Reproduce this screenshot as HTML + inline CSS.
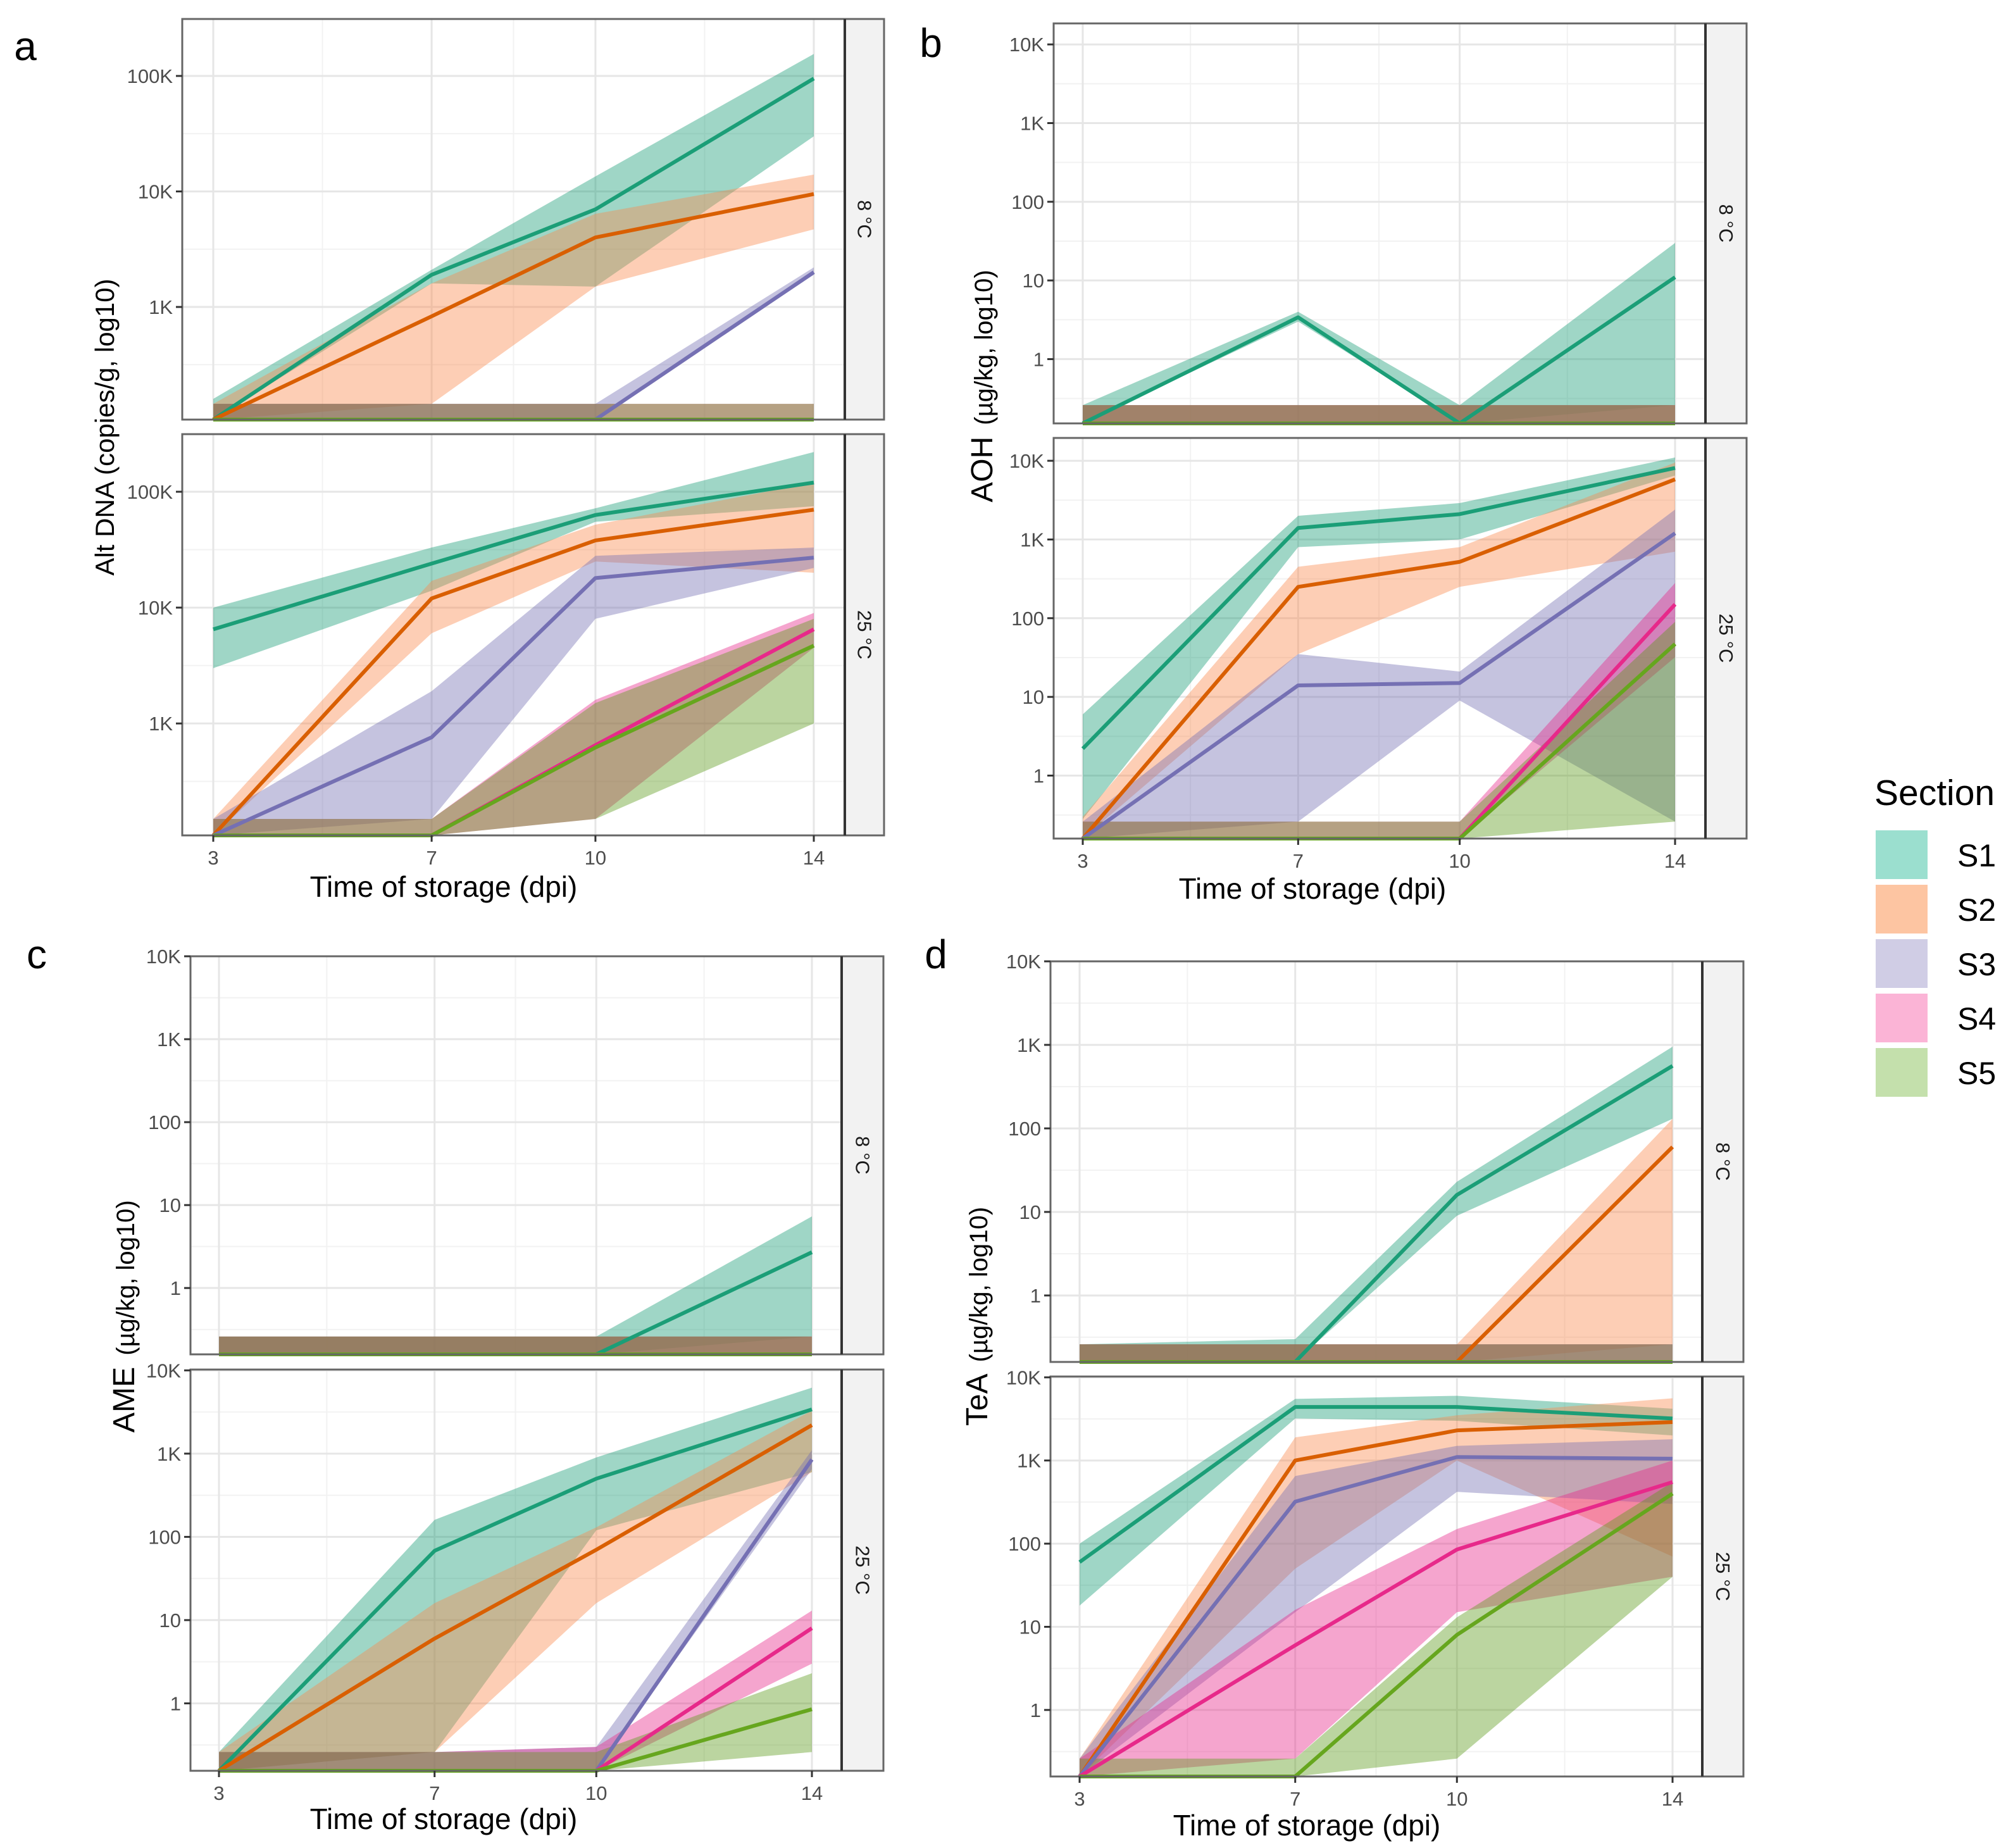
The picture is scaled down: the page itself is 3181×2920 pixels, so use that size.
<!DOCTYPE html>
<html><head><meta charset="utf-8"><style>
html,body{margin:0;padding:0;background:#fff;}
svg{display:block;font-family:"Liberation Sans",Arial,sans-serif;}
</style></head><body>
<svg id="chart" width="3181" height="2920" viewBox="0 0 3181 2920" xmlns="http://www.w3.org/2000/svg"></svg>
<script>
// ---------- data ----------
const days = [3, 7, 10, 14];
const sections = ['S1','S2','S3','S4','S5'];
const lineColors = ['#1B9E77','#D95F02','#7570B3','#E7298A','#66A61E'];
const fillColors = ['#1B9E77','#FB8A4E','#7570B3','#E7298A','#5E9A1C'];
const fillSwatch = ['#9BDFCF','#FDC5A2','#D0CDE5','#FBB4D6','#C4E0AC'];

// Panel a (Alt DNA)
const aColdMid = [[0,1900,7000,95000],[0,830,4000,9500],[0,0,0,2000],[0,0,0,0],[0,0,0,0]];
const aColdLo  = [[0,1600,1500,30000],[0,145,1500,4700],[0,0,0,1900],[0,0,0,0],[0,0,0,0]];
const aColdHi  = [[160,2100,13500,155000],[145,1600,6400,14000],[145,145,145,2200],[145,145,145,145],[145,145,145,145]];
const aWarmMid = [[6500,24000,63000,120000],[0,12000,38000,70000],[0,760,18000,27000],[0,0,650,6500],[0,0,620,4700]];
const aWarmLo  = [[3000,14000,55000,75000],[0,6000,25000,20000],[0,150,8000,22000],[0,0,150,4500],[0,0,150,1000]];
const aWarmHi  = [[10000,33000,72000,220000],[150,17000,52000,120000],[150,1900,28000,33000],[150,150,1600,9000],[150,150,1500,8000]];
// Panel b (AOH)
const bColdMid = [[0,3.4,0,11],[0,0,0,0],[0,0,0,0],[0,0,0,0],[0,0,0,0]];
const bColdLo  = [[0,3.0,0,0.26],[0,0,0,0],[0,0,0,0],[0,0,0,0],[0,0,0,0]];
const bColdHi  = [[0.26,4.0,0.26,30],[0.26,0.26,0.26,0.26],[0.26,0.26,0.26,0.26],[0.26,0.26,0.26,0.26],[0.26,0.26,0.26,0.26]];
const bWarmMid = [[2.2,1400,2100,8100],[0,250,520,5800],[0,14,15,1200],[0,0,0,150],[0,0,0,47]];
const bWarmLo  = [[0.28,800,1000,6500],[0,35,250,700],[0,0.26,9,0.26],[0,0,0,32],[0,0,0,0.26]];
const bWarmHi  = [[6,2000,2900,11000],[0.3,450,800,9500],[0.26,35,21,2400],[0.26,0.26,0.26,280],[0.26,0.26,0.26,90]];
// Panel c (AME)
const cColdMid = [[0,0,0,2.7],[0,0,0,0],[0,0,0,0],[0,0,0,0],[0,0,0,0]];
const cColdLo  = [[0,0,0,0.26],[0,0,0,0],[0,0,0,0],[0,0,0,0],[0,0,0,0]];
const cColdHi  = [[0.26,0.26,0.26,7.3],[0.26,0.26,0.26,0.26],[0.26,0.26,0.26,0.26],[0.26,0.26,0.26,0.26],[0.26,0.26,0.26,0.26]];
const cWarmMid = [[0,68,500,3400],[0,6,70,2200],[0,0,0,850],[0,0,0,8],[0,0,0,0.85]];
const cWarmLo  = [[0,0.26,120,600],[0,0.26,16,600],[0,0,0,650],[0,0,0,3],[0,0,0,0.26]];
const cWarmHi  = [[0.26,160,900,6200],[0.26,16,130,3300],[0.26,0.26,0.3,1100],[0.26,0.26,0.3,13],[0.26,0.26,0.26,2.3]];
// Panel d (TeA)
const dColdMid = [[0,0,16,560],[0,0,0,60],[0,0,0,0],[0,0,0,0],[0,0,0,0]];
const dColdLo  = [[0,0,9,130],[0,0,0,0.26],[0,0,0,0],[0,0,0,0],[0,0,0,0]];
const dColdHi  = [[0.26,0.3,23,950],[0.26,0.26,0.26,130],[0.26,0.26,0.26,0.26],[0.26,0.26,0.26,0.26],[0.26,0.26,0.26,0.26]];
const dWarmMid = [[60,4400,4400,3200],[0,1000,2300,2900],[0,320,1100,1050],[0,6,85,550],[0,0,8,400]];
const dWarmLo  = [[18,3200,3000,2000],[0,50,1000,70],[0,15,420,300],[0,0.26,15,40],[0,0,0.26,40]];
const dWarmHi  = [[100,5500,6000,4200],[0.26,1900,3500,5600],[0.26,650,1500,1800],[0.26,16,150,1000],[0.26,0.26,13,550]];

const tickLabelsK = ['1','10','100','1K','10K','100K'];

// ---------- layout ----------
const NS = 'http://www.w3.org/2000/svg';
const svg = document.getElementById('chart');
function mk(tag, attrs, parent){ const e=document.createElementNS(NS,tag); for(const k in attrs) e.setAttribute(k,attrs[k]); (parent||svg).appendChild(e); return e; }

const panels = [
 {id:'a', letter:[40,95], left:288,right:1335,strip:1397, x3:337,x14:1286,
  facets:[{name:'8 °C',top:30,bot:663,lmin:2.025,lmax:5.493,mid:aColdMid,lo:aColdLo,hi:aColdHi},
          {name:'25 °C',top:686,bot:1320,lmin:2.034,lmax:5.497,mid:aWarmMid,lo:aWarmLo,hi:aWarmHi}],
  ytitle:['Alt DNA (copies/g, log10)',''], ytx:180, yc:675, xtitle:'Time of storage (dpi)', xtx:701, xty:1417},
 {id:'b', letter:[1471,90], left:1665,right:2695,strip:2760, x3:1711,x14:2647,
  facets:[{name:'8 °C',top:37,bot:669,lmin:-0.817,lmax:4.267,mid:bColdMid,lo:bColdLo,hi:bColdHi},
          {name:'25 °C',top:692,bot:1325,lmin:-0.8,lmax:4.29,mid:bWarmMid,lo:bWarmLo,hi:bWarmHi}],
  ytitle:['AOH','(µg/kg, log10)'], ytx:1568, yc:610, xtitle:'Time of storage (dpi)', xtx:2074, xty:1420},
 {id:'c', letter:[58,1530], left:301,right:1330,strip:1396, x3:346,x14:1283,
  facets:[{name:'8 °C',top:1511,bot:2140,lmin:-0.80,lmax:4.0,mid:cColdMid,lo:cColdLo,hi:cColdHi},
          {name:'25 °C',top:2164,bot:2798,lmin:-0.81,lmax:4.01,mid:cWarmMid,lo:cWarmLo,hi:cWarmHi}],
  ytitle:['AME','(µg/kg, log10)'], ytx:212, yc:2080, xtitle:'Time of storage  (dpi)', xtx:701, xty:2890},
 {id:'d', letter:[1479,1530], left:1660,right:2690,strip:2755, x3:1706,x14:2643,
  facets:[{name:'8 °C',top:1519,bot:2152,lmin:-0.796,lmax:4.0,mid:dColdMid,lo:dColdLo,hi:dColdHi},
          {name:'25 °C',top:2175,bot:2807,lmin:-0.8,lmax:4.01,mid:dWarmMid,lo:dWarmLo,hi:dWarmHi}],
  ytitle:['TeA','(µg/kg, log10)'], ytx:1560, yc:2080, xtitle:'Time of storage  (dpi)', xtx:2065, xty:2900}
];

panels.forEach(p=>{
  const g = mk('g',{});
  
  
  const xs = d => p.x3 + (d-3)*(p.x14-p.x3)/11;
  const letter = mk('text',{x:p.letter[0],y:p.letter[1],'font-size':64,'text-anchor':'middle',fill:'#000'},g);
  letter.textContent = p.id;
  
  

  p.facets.forEach((f,fi)=>{
    const fg = mk('g',{},g);
    
    
    const ys = v => { let l = v>0 ? Math.log10(v) : -99; l=Math.max(f.lmin,Math.min(f.lmax,l)); return f.bot-(l-f.lmin)*(f.bot-f.top)/(f.lmax-f.lmin); };
    const ysl = l => f.bot-(l-f.lmin)*(f.bot-f.top)/(f.lmax-f.lmin);
    mk('rect',{x:p.left,y:f.top,width:p.right-p.left,height:f.bot-f.top,fill:'#fff'},fg);
    for(let l=Math.floor(f.lmin)-0.5;l<=f.lmax;l+=1){ if(l<f.lmin) continue;
      mk('line',{x1:p.left,x2:p.right,y1:ysl(l),y2:ysl(l),stroke:'#F2F2F2','stroke-width':2},fg);}
    [5,8.5,12].forEach(d=>mk('line',{x1:xs(d),x2:xs(d),y1:f.top,y2:f.bot,stroke:'#F2F2F2','stroke-width':2},fg));
    for(let l=Math.ceil(f.lmin);l<=f.lmax;l++){
      mk('line',{x1:p.left,x2:p.right,y1:ysl(l),y2:ysl(l),stroke:'#E6E6E6','stroke-width':3},fg);}
    days.forEach(d=>mk('line',{x1:xs(d),x2:xs(d),y1:f.top,y2:f.bot,stroke:'#E6E6E6','stroke-width':3},fg));
    sections.forEach((s,si)=>{
      const up = days.map((d,i)=>xs(d)+','+ys(f.hi[si][i]));
      const dn = days.map((d,i)=>xs(d)+','+ys(f.lo[si][i])).reverse();
      const r = mk('polygon',{points:up.concat(dn).join(' '),fill:fillColors[si],'fill-opacity':0.42},fg);
      
      
    });
    sections.forEach((s,si)=>{
      const pts = days.map((d,i)=>xs(d)+','+ys(f.mid[si][i])).join(' ');
      const ln = mk('polyline',{points:pts,fill:'none',stroke:lineColors[si],'stroke-width':6,'stroke-linejoin':'round'},fg);
      
      
    });
    mk('rect',{x:p.left,y:f.top,width:p.right-p.left,height:f.bot-f.top,fill:'none',stroke:'#666','stroke-width':3},fg);
    mk('rect',{x:p.right,y:f.top,width:p.strip-p.right,height:f.bot-f.top,fill:'#F2F2F2',stroke:'#666','stroke-width':3},fg);
    mk('line',{x1:p.right,x2:p.right,y1:f.top,y2:f.bot,stroke:'#333','stroke-width':4},fg);
    const cx=(p.right+p.strip)/2, cy=(f.top+f.bot)/2;
    const st = mk('text',{x:cx,y:cy,'font-size':31,'text-anchor':'middle','dominant-baseline':'central',fill:'#1A1A1A',transform:`rotate(90 ${cx} ${cy})`},fg);
    st.textContent=f.name;
    
    
    for(let l=Math.ceil(f.lmin);l<=f.lmax;l++){
      const y=ysl(l);
      mk('line',{x1:p.left-10,x2:p.left,y1:y,y2:y,stroke:'#333','stroke-width':3},fg);
      const t=mk('text',{x:p.left-15,y:y+11,'font-size':31,'text-anchor':'end',fill:'#4D4D4D'},fg);
      t.textContent=tickLabelsK[l];
      
      
    }
    if(fi===1){
      days.forEach(d=>{
        mk('line',{x1:xs(d),x2:xs(d),y1:f.bot,y2:f.bot+10,stroke:'#333','stroke-width':3},fg);
        const t=mk('text',{x:xs(d),y:f.bot+46,'font-size':31,'text-anchor':'middle',fill:'#4D4D4D'},fg);
        t.textContent=d;
        
        
      });
    }
  });
  const yc=p.yc;
  const yt=mk('text',{x:p.ytx,y:yc,'font-size':42,'text-anchor':'middle',fill:'#000',transform:`rotate(-90 ${p.ytx} ${yc})`},g);
  if(p.ytitle[1]){
    const ts1=mk('tspan',{'font-size':48},yt); ts1.textContent=p.ytitle[0];
    const ts2=mk('tspan',{'font-size':40,dx:18},yt); ts2.textContent=p.ytitle[1];
  } else { yt.textContent=p.ytitle[0]; }
  
  
  const xt=mk('text',{x:p.xtx,y:p.xty,'font-size':46,'text-anchor':'middle',fill:'#000'},g);
  xt.textContent=p.xtitle;
  
  
});

const lg = mk('g',{});


const lt = mk('text',{x:2962,y:1272,'font-size':57,fill:'#000'},lg);
lt.textContent='Section';


sections.forEach((s,i)=>{
  const y=1312+i*86;
  const r=mk('rect',{x:2964,y:y,width:82,height:77,fill:fillSwatch[i]},lg);
  
  
  const t=mk('text',{x:3093,y:y+57,'font-size':50,fill:'#000'},lg);
  t.textContent=s;
  
  
});
</script>
</body></html>
